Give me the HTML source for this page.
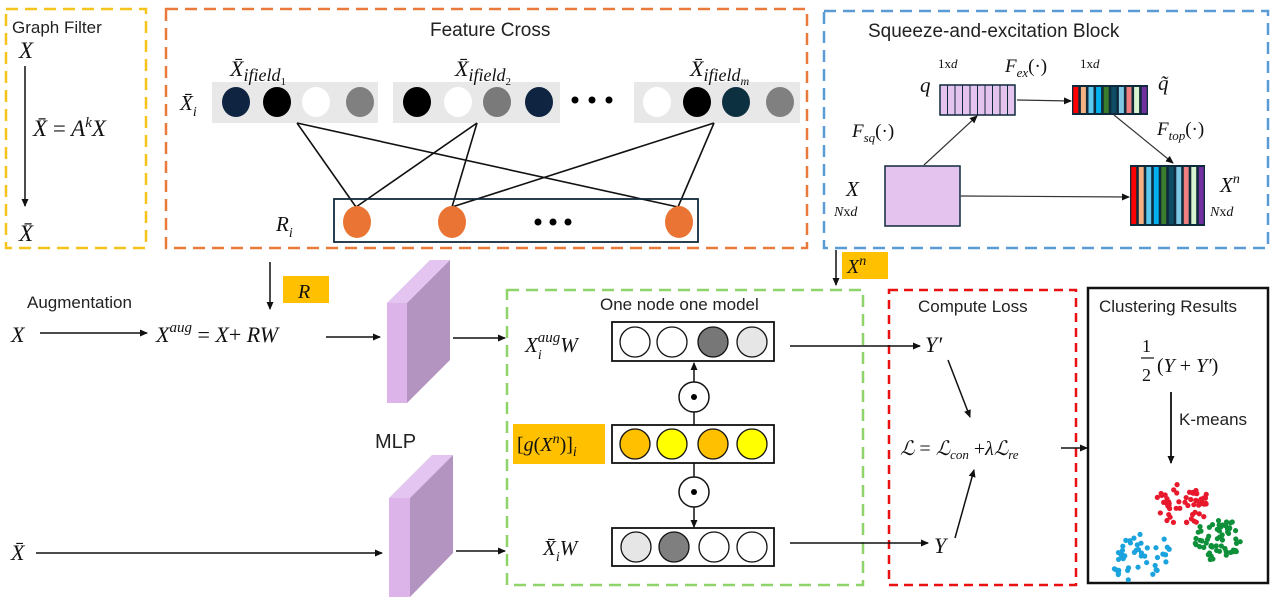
<!DOCTYPE html>
<html><head><meta charset="utf-8"><style>
html,body{margin:0;padding:0;background:#fff}
svg{display:block}
text{font-family:"Liberation Sans","DejaVu Sans",sans-serif;fill:#222}
.m{font-family:"Liberation Serif","DejaVu Serif",serif;font-style:italic;fill:#111}
.n{font-family:"Liberation Serif","DejaVu Serif",serif;fill:#111}
</style></head><body>
<svg id="s" width="1280" height="606" viewBox="0 0 1280 606" xmlns="http://www.w3.org/2000/svg">
<defs><marker id="a" markerWidth="8" markerHeight="8" refX="7" refY="4" orient="auto" markerUnits="userSpaceOnUse"><path d="M0,0.5 L8,4 L0,7.5z" fill="#111"/></marker></defs>

<rect x="6" y="9" width="140" height="239" fill="none" stroke="#f5c31c" stroke-width="2.5" stroke-dasharray="12,7"/>
<rect x="166" y="9" width="641" height="239" fill="none" stroke="#ea7a3b" stroke-width="2.5" stroke-dasharray="12,7"/>
<rect x="824" y="11" width="444" height="237" fill="none" stroke="#5b9bd5" stroke-width="2.5" stroke-dasharray="12,7"/>
<rect x="507" y="290" width="356" height="295" fill="none" stroke="#8fd46b" stroke-width="2.5" stroke-dasharray="12,7"/>
<rect x="889" y="290" width="187" height="295" fill="none" stroke="#e81010" stroke-width="2.5" stroke-dasharray="9,6"/>
<rect x="1088" y="288" width="180" height="295" fill="none" stroke="#111" stroke-width="2.5"/>

<text x="12" y="33" font-size="17">Graph Filter</text>
<text x="19" y="58" class="m" font-size="23">X</text>
<line x1="25" y1="66" x2="25" y2="206" stroke="#111" stroke-width="1.5" marker-end="url(#a)"/>
<text x="33" y="136" class="m" font-size="23">X̄ <tspan class="n" font-style="normal">=</tspan> A<tspan font-size="15" dy="-9">k</tspan><tspan dy="9">X</tspan></text>
<text x="19" y="241" class="m" font-size="23">X̄</text>

<text x="430" y="36" font-size="19">Feature Cross</text>
<rect x="212" y="82" width="166" height="41" fill="#e8e8e8"/>
<rect x="393" y="82" width="167" height="41" fill="#e8e8e8"/>
<rect x="634" y="82" width="166" height="41" fill="#e8e8e8"/>
<g>
<ellipse cx="236" cy="102" rx="14" ry="15" fill="#0f2440"/>
<ellipse cx="277" cy="102" rx="14" ry="15" fill="#000"/>
<ellipse cx="316" cy="102" rx="14" ry="15" fill="#fff"/>
<ellipse cx="360" cy="102" rx="14" ry="15" fill="#808080"/>
<ellipse cx="417" cy="102" rx="14" ry="15" fill="#000"/>
<ellipse cx="458" cy="102" rx="14" ry="15" fill="#fff"/>
<ellipse cx="497" cy="102" rx="14" ry="15" fill="#7a7a7a"/>
<ellipse cx="539" cy="102" rx="14" ry="15" fill="#0f2440"/>
<ellipse cx="657" cy="102" rx="14" ry="15" fill="#fff"/>
<ellipse cx="697" cy="102" rx="14" ry="15" fill="#000"/>
<ellipse cx="736" cy="102" rx="14" ry="15" fill="#0d3040"/>
<ellipse cx="780" cy="102" rx="14" ry="15" fill="#808080"/>
<circle cx="575" cy="100" r="3.5" fill="#000"/><circle cx="592" cy="100" r="3.5" fill="#000"/><circle cx="609" cy="100" r="3.5" fill="#000"/>
</g>
<text x="180" y="110" class="m" font-size="21">X̄<tspan font-size="14" dy="6">i</tspan></text>
<text x="230" y="76" class="m" font-size="22">X̄<tspan font-size="18" dy="5">ifield</tspan><tspan font-size="11" dy="4" font-style="normal">1</tspan></text>
<text x="455" y="76" class="m" font-size="22">X̄<tspan font-size="18" dy="5">ifield</tspan><tspan font-size="11" dy="4" font-style="normal">2</tspan></text>
<text x="690" y="76" class="m" font-size="22">X̄<tspan font-size="18" dy="5">ifield</tspan><tspan font-size="12" dy="4">m</tspan></text>
<g stroke="#111" stroke-width="1.6">
<line x1="297" y1="123" x2="356" y2="207"/><line x1="297" y1="123" x2="678" y2="207"/>
<line x1="477" y1="123" x2="356" y2="207"/><line x1="477" y1="123" x2="452" y2="207"/>
<line x1="714" y1="123" x2="452" y2="207"/><line x1="714" y1="123" x2="678" y2="207"/>
</g>
<rect x="334" y="199" width="364" height="43" fill="none" stroke="#0f2a3a" stroke-width="1.8"/>
<ellipse cx="357" cy="222" rx="14" ry="16" fill="#ea7433"/>
<ellipse cx="452" cy="222" rx="14" ry="16" fill="#ea7433"/>
<ellipse cx="679" cy="222" rx="14" ry="16" fill="#ea7433"/>
<circle cx="538" cy="222" r="3.5" fill="#000"/><circle cx="553" cy="222" r="3.5" fill="#000"/><circle cx="568" cy="222" r="3.5" fill="#000"/>
<text x="276" y="231" class="m" font-size="21">R<tspan font-size="14" dy="6">i</tspan></text>

<text x="868" y="37" font-size="19">Squeeze-and-excitation Block</text>
<g id="q"></g>
<text x="920" y="92" class="m" font-size="21">q</text>
<text x="938" y="68" class="n" font-size="13">1x<tspan class="m">d</tspan></text>
<text x="1005" y="72" class="m" font-size="19">F<tspan font-size="13" dy="5">ex</tspan><tspan dy="-5" class="n" font-style="normal">(·)</tspan></text>
<text x="1080" y="68" class="n" font-size="13">1x<tspan class="m">d</tspan></text>
<text x="1158" y="90" class="m" font-size="21">q̃</text>
<text x="1157" y="135" class="m" font-size="19">F<tspan font-size="13" dy="5">top</tspan><tspan dy="-5" class="n" font-style="normal">(·)</tspan></text>
<text x="852" y="137" class="m" font-size="19">F<tspan font-size="13" dy="5">sq</tspan><tspan dy="-5" class="n" font-style="normal">(·)</tspan></text>
<text x="846" y="196" class="m" font-size="21">X</text>
<text x="834" y="216" class="m" font-size="14">N<tspan class="n" font-style="normal">x</tspan>d</text>
<text x="1220" y="192" class="m" font-size="21">X<tspan font-size="14" dy="-9">n</tspan></text>
<text x="1210" y="216" class="m" font-size="14">N<tspan class="n" font-style="normal">x</tspan>d</text>
<rect x="885" y="166" width="75" height="60" fill="#e4c3ef" stroke="#0f2a3a" stroke-width="1.5"/>
<g stroke="#333" stroke-width="1.2">
<line x1="924" y1="165" x2="977" y2="116" marker-end="url(#a)"/>
<line x1="1017" y1="100" x2="1071" y2="101" marker-end="url(#a)"/>
<line x1="1114" y1="115" x2="1173" y2="163" marker-end="url(#a)"/>
<line x1="961" y1="196" x2="1129" y2="197" marker-end="url(#a)"/>
</g>

<line x1="270" y1="262" x2="270" y2="309" stroke="#111" stroke-width="1.5" marker-end="url(#a)"/>
<rect x="283" y="276" width="46" height="27" fill="#ffc000"/>
<text x="298" y="298" class="m" font-size="20">R</text>
<line x1="836" y1="250" x2="836" y2="285" stroke="#111" stroke-width="1.5" marker-end="url(#a)"/>
<rect x="842" y="252" width="46" height="27" fill="#ffc000"/>
<text x="847" y="273" class="m" font-size="20">X<tspan font-size="14" dy="-8">n</tspan></text>

<text x="27" y="308" font-size="17">Augmentation</text>
<text x="11" y="342" class="m" font-size="22">X</text>
<line x1="40" y1="333" x2="147" y2="333" stroke="#111" stroke-width="1.5" marker-end="url(#a)"/>
<text x="156" y="342" class="m" font-size="22">X<tspan font-size="15" dy="-10">aug</tspan><tspan dy="10" class="n" font-style="normal"> = </tspan>X<tspan class="n" font-style="normal">+ </tspan>RW</text>
<line x1="326" y1="337" x2="380" y2="337" stroke="#111" stroke-width="1.5" marker-end="url(#a)"/>

<text x="11" y="560" class="m" font-size="22">X̄</text>
<line x1="36" y1="553" x2="382" y2="553" stroke="#111" stroke-width="1.5" marker-end="url(#a)"/>

<polygon points="387,303 407,303 450,260 430,260" fill="#e4c4f0"/>
<polygon points="407,303 450,260 450,360 407,403" fill="#b393bf"/>
<rect x="387" y="303" width="20" height="100" fill="#dcb4ea"/>
<polygon points="389,498 410,498 453,455 432,455" fill="#e4c4f0"/>
<polygon points="410,498 453,455 453,553 410,597" fill="#b393bf"/>
<rect x="389" y="498" width="21" height="99" fill="#dcb4ea"/>
<text x="375" y="448" font-size="20">MLP</text>
<line x1="453" y1="338" x2="505" y2="338" stroke="#111" stroke-width="1.5" marker-end="url(#a)"/>
<line x1="456" y1="551" x2="505" y2="551" stroke="#111" stroke-width="1.5" marker-end="url(#a)"/>

<text x="600" y="310" font-size="17">One node one model</text>
<text x="525" y="352" class="m" font-size="21">X<tspan font-size="14" dy="7">i</tspan><tspan font-size="15" dx="-4" dy="-17">aug</tspan><tspan dy="10">W</tspan></text>
<rect x="612" y="322" width="162" height="39" fill="#fff" stroke="#111" stroke-width="1.8"/>
<circle cx="635" cy="342" r="15" fill="#fff" stroke="#111" stroke-width="1.3"/>
<circle cx="672" cy="342" r="15" fill="#fff" stroke="#111" stroke-width="1.3"/>
<circle cx="713" cy="342" r="15" fill="#777" stroke="#111" stroke-width="1.3"/>
<circle cx="752" cy="342" r="15" fill="#e6e6e6" stroke="#111" stroke-width="1.3"/>

<rect x="513" y="424" width="92" height="40" fill="#ffc000"/>
<text x="517" y="451" class="m" font-size="20"><tspan class="n" font-style="normal">[</tspan>g<tspan class="n" font-style="normal">(</tspan>X<tspan font-size="14" dy="-8">n</tspan><tspan dy="8" class="n" font-style="normal">)]</tspan><tspan font-size="14" dy="5">i</tspan></text>
<rect x="612" y="425" width="162" height="38" fill="#fff" stroke="#111" stroke-width="1.8"/>
<circle cx="635" cy="444" r="15" fill="#ffc000" stroke="#111" stroke-width="1.3"/>
<circle cx="672" cy="444" r="15" fill="#ffff00" stroke="#111" stroke-width="1.3"/>
<circle cx="713" cy="444" r="15" fill="#ffc000" stroke="#111" stroke-width="1.3"/>
<circle cx="752" cy="444" r="15" fill="#ffff00" stroke="#111" stroke-width="1.3"/>

<g stroke="#111" stroke-width="1.5">
<line x1="694" y1="382" x2="694" y2="363" marker-end="url(#a)"/>
<line x1="694" y1="425" x2="694" y2="412"/>
<line x1="694" y1="463" x2="694" y2="477"/>
<line x1="694" y1="507" x2="694" y2="527" marker-end="url(#a)"/>
</g>
<circle cx="694" cy="397" r="15" fill="#fff" stroke="#111" stroke-width="1.5"/><circle cx="694" cy="397" r="3" fill="#000"/>
<circle cx="694" cy="492" r="15" fill="#fff" stroke="#111" stroke-width="1.5"/><circle cx="694" cy="492" r="3" fill="#000"/>

<text x="543" y="555" class="m" font-size="21">X̄<tspan font-size="14" dy="6">i</tspan><tspan dy="-6">W</tspan></text>
<rect x="612" y="528" width="162" height="38" fill="#fff" stroke="#111" stroke-width="1.8"/>
<circle cx="636" cy="547" r="15" fill="#e6e6e6" stroke="#111" stroke-width="1.3"/>
<circle cx="674" cy="547" r="15" fill="#7f7f7f" stroke="#111" stroke-width="1.3"/>
<circle cx="714" cy="547" r="15" fill="#fff" stroke="#111" stroke-width="1.3"/>
<circle cx="752" cy="547" r="15" fill="#fff" stroke="#111" stroke-width="1.3"/>

<line x1="790" y1="346" x2="920" y2="346" stroke="#111" stroke-width="1.5" marker-end="url(#a)"/>
<line x1="790" y1="543" x2="928" y2="543" stroke="#111" stroke-width="1.5" marker-end="url(#a)"/>

<text x="918" y="312" font-size="17">Compute Loss</text>
<text x="925" y="352" class="m" font-size="22">Y′</text>
<text x="934" y="553" class="m" font-size="22">Y</text>
<line x1="948" y1="360" x2="970" y2="417" stroke="#111" stroke-width="1.5" marker-end="url(#a)"/>
<line x1="955" y1="538" x2="974" y2="470" stroke="#111" stroke-width="1.5" marker-end="url(#a)"/>
<text x="900" y="455" class="m" font-size="20">ℒ <tspan class="n" font-style="normal">= </tspan>ℒ<tspan font-size="13" dy="4">con</tspan><tspan dy="-4" class="n" font-style="normal"> +</tspan>λℒ<tspan font-size="13" dy="4">re</tspan></text>
<line x1="1061" y1="448" x2="1087" y2="448" stroke="#111" stroke-width="1.5" marker-end="url(#a)"/>

<text x="1099" y="312" font-size="17">Clustering Results</text>
<text x="1142" y="352" class="n" font-size="18">1</text>
<line x1="1141" y1="358" x2="1154" y2="358" stroke="#111" stroke-width="1.2"/>
<text x="1142" y="381" class="n" font-size="18">2</text>
<text x="1157" y="372" class="m" font-size="20"><tspan class="n" font-style="normal">(</tspan>Y <tspan class="n" font-style="normal">+</tspan> Y′<tspan class="n" font-style="normal">)</tspan></text>
<line x1="1171" y1="392" x2="1171" y2="463" stroke="#111" stroke-width="1.8" marker-end="url(#a)"/>
<text x="1179" y="425" font-size="17">K-means</text>
<g id="dots"></g>
</svg>
<script>
var ns="http://www.w3.org/2000/svg";
function R(x,y,w,h,f,p){var r=document.createElementNS(ns,"rect");r.setAttribute("x",x);r.setAttribute("y",y);r.setAttribute("width",w);r.setAttribute("height",h);r.setAttribute("fill",f);if(p)for(var k in p)r.setAttribute(k,p[k]);document.getElementById("q").appendChild(r);}
R(940,85,75,30,"#e4c3ef",{stroke:"#0f2a3a","stroke-width":1.5});
for(var i=1;i<10;i++){var l=document.createElementNS(ns,"line");var x=940+i*7.5;l.setAttribute("x1",x);l.setAttribute("x2",x);l.setAttribute("y1",85);l.setAttribute("y2",115);l.setAttribute("stroke","#0f2a3a");l.setAttribute("stroke-width",1);document.getElementById("q").appendChild(l);}
var cols=["#ff0000","#f4b183","#5bc8f0","#00b0f0","#3a7d2c","#0e4d64","#7ec8e3","#f08080","#d9f2d0","#7030a0"];
function stripes(x0,y0,w,h){R(x0,y0,w,h,"#0f2a3a");var cw=w/10;for(var i=0;i<10;i++){R(x0+i*cw+1.3,y0+2,cw-2.6,h-4,cols[i]);}}
stripes(1072,85,76,30);stripes(1130,165,75,61);
var seed=11;function rnd(){seed=(seed*16807)%2147483647;return seed/2147483647;}
var d=document.getElementById("dots");
function cl(cx,cy,sx,sy,n,c,sk){for(var i=0;i<n;i++){var a=rnd()*6.283,r=Math.sqrt(rnd());var dx=Math.cos(a)*r*sx,dy=Math.sin(a)*r*sy;var e=document.createElementNS(ns,"circle");e.setAttribute("cx",cx+dx+dy*sk);e.setAttribute("cy",cy+dy);e.setAttribute("r",2.6);e.setAttribute("fill",c);d.appendChild(e);}}
cl(1182,504,27,22,55,"#e8192c",0);
cl(1219,540,24,22,60,"#0e8f3a",0);
cl(1142,556,28,25,45,"#1aa3dc",-0.3);
</script>
</body></html>
